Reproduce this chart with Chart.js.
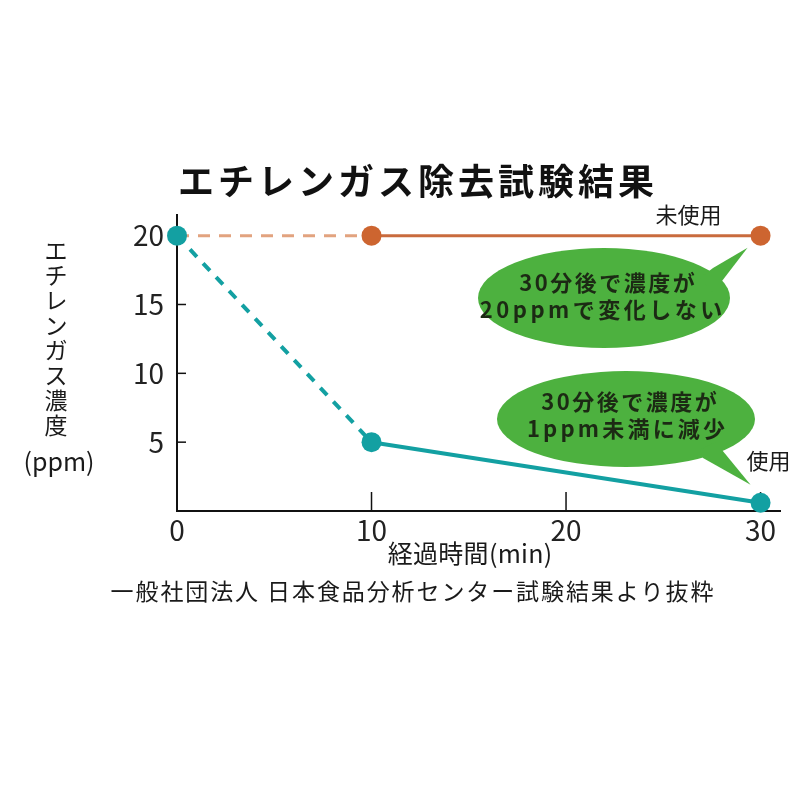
<!DOCTYPE html>
<html lang="ja">
<head>
<meta charset="utf-8">
<script src="https://cdn.jsdelivr.net/npm/chart.js@4/dist/chart.umd.min.js"></script>
<style>
html,body{margin:0;padding:0;background:#fff;}
canvas{display:block;}
</style>
</head>
<body>
<canvas id="c" width="800" height="800"></canvas>
<script>
// ---- data ----
const timesMin = [0, 10, 30];
const unusedPpm = [20, 20, 20];
const usedPpm = [20, 5, 0.6];
const xTickValues = [0, 10, 20, 30];
const yTickValues = [5, 10, 15, 20];
const titleText = 'エチレンガス除去試験結果';
const yTitleChars = ['エ','チ','レ','ン','ガ','ス','濃','度'];
const yTitleUnit = '(ppm)';
const xTitleText = '経過時間(min)';
const sourceText = '一般社団法人 日本食品分析センター試験結果より抜粋';
const seriesNames = ['使用', '未使用'];
const bubble1Lines = ['30分後で濃度が', '20ppmで変化しない'];
const bubble2Lines = ['30分後で濃度が', '1ppm未満に減少'];

const FONT = '"Noto Sans CJK JP", "Noto Sans", sans-serif';
const TEAL = '#13a0a2';
const ORANGE = '#cd6530';
const ORANGE_LINE = '#c96b3e';
const ORANGE_DASH = '#e2a37f';
const GREEN = '#4db13f';

const usedData = timesMin.map((t, i) => ({x: t, y: usedPpm[i]}));
const unusedData = timesMin.map((t, i) => ({x: t, y: unusedPpm[i]}));

function ellipseBubble(ctx, cx, cy, rx, ry, tailPts) {
  ctx.save();
  ctx.fillStyle = GREEN;
  ctx.beginPath();
  ctx.ellipse(cx, cy, rx, ry, 0, 0, Math.PI * 2);
  ctx.fill();
  ctx.beginPath();
  ctx.moveTo(tailPts[0][0], tailPts[0][1]);
  for (let i = 1; i < tailPts.length; i++) ctx.lineTo(tailPts[i][0], tailPts[i][1]);
  ctx.closePath();
  ctx.fill();
  ctx.restore();
}

function spacedText(ctx, text, x, y, spacing) {
  ctx.letterSpacing = spacing + 'px';
  ctx.fillText(text, x + spacing / 2, y);
  ctx.letterSpacing = '0px';
}

const decor = {
  id: 'decor',
  beforeDraw(chart) {
    const ctx = chart.ctx;
    ctx.save();
    ctx.fillStyle = '#fff';
    ctx.fillRect(0, 0, chart.width, chart.height);
    ctx.restore();
  },
  beforeDatasetsDraw(chart) {
    const ctx = chart.ctx;
    const xs = chart.scales.x, ys = chart.scales.y;
    ctx.save();
    ctx.strokeStyle = '#111';
    ctx.lineWidth = 1.5;
    yTickValues.forEach(v => {
      if (v === 20) return;
      const py = ys.getPixelForValue(v);
      ctx.beginPath();
      ctx.moveTo(xs.left, py);
      ctx.lineTo(xs.left + 9, py);
      ctx.stroke();
    });
    [10, 20, 30].forEach(v => {
      const px = xs.getPixelForValue(v);
      ctx.beginPath();
      ctx.moveTo(px, ys.bottom);
      ctx.lineTo(px, ys.bottom - 19);
      ctx.stroke();
    });
    ctx.restore();
  },
  afterDatasetsDraw(chart) {
    const ctx = chart.ctx;
    const xs = chart.scales.x, ys = chart.scales.y;
    ctx.save();
    ctx.textAlign = 'center';
    ctx.textBaseline = 'middle';

    // Title
    ctx.fillStyle = '#111';
    ctx.font = 'bold 36px ' + FONT;
    spacedText(ctx, titleText, 416, 181, 4);

    // Y title (vertical)
    ctx.font = '23px ' + FONT;
    ctx.fillStyle = '#1a1a1a';
    yTitleChars.forEach((ch, i) => ctx.fillText(ch, 56, 250 + i * 25));
    ctx.font = '25px ' + FONT;
    ctx.fillText(yTitleUnit, 59, 461);

    // X title
    ctx.font = '25px ' + FONT;
    spacedText(ctx, xTitleText, 470, 553, 0.3);

    // Source
    ctx.font = '23px ' + FONT;
    spacedText(ctx, sourceText, 412, 591, 1.9);

    // Series labels
    const p30u = [xs.getPixelForValue(timesMin[2]), ys.getPixelForValue(unusedPpm[2])];
    const p30s = [xs.getPixelForValue(timesMin[2]), ys.getPixelForValue(usedPpm[2])];
    ctx.font = '22px ' + FONT;
    ctx.fillText(seriesNames[1], p30u[0] - 72, p30u[1] - 21);
    ctx.fillText(seriesNames[0], p30s[0] + 8, p30s[1] - 42);

    // Bubbles
    ellipseBubble(ctx, 604, 298, 126, 50,
      [[700, 278], [713, 268], [p30u[0] - 13, p30u[1] + 12], [722, 281], [712, 292]]);
    ellipseBubble(ctx, 626, 419, 129, 48,
      [[700, 450], [703, 458], [p30s[0] - 10, p30s[1] - 18], [722, 450], [715, 442]]);

    ctx.fillStyle = '#1c2a14';
    ctx.font = 'bold 22px ' + FONT;
    spacedText(ctx, bubble1Lines[0], 607, 283, 2.5);
    spacedText(ctx, bubble1Lines[1], 601, 310, 3.5);
    spacedText(ctx, bubble2Lines[0], 629, 402, 2.5);
    spacedText(ctx, bubble2Lines[1], 626, 429, 3.2);
    ctx.restore();
  }
};

const dashFirst = (dash) => (c) => c.p0.parsed.x < 10 ? dash : undefined;

new Chart(document.getElementById('c'), {
  type: 'line',
  data: {
    datasets: [
      {
        label: seriesNames[0],
        data: usedData,
        borderColor: TEAL,
        backgroundColor: TEAL,
        borderWidth: 4,
        pointRadius: 10,
        pointBorderWidth: 0,
        pointBackgroundColor: TEAL,
        segment: { borderDash: dashFirst([10, 9]) },
        tension: 0,
        clip: false
      },
      {
        label: seriesNames[1],
        data: unusedData,
        borderColor: ORANGE_LINE,
        backgroundColor: ORANGE,
        borderWidth: 3,
        pointRadius: [0, 10, 10],
        pointBorderWidth: 0,
        pointBackgroundColor: ORANGE,
        segment: {
          borderDash: dashFirst([12, 9]),
          borderColor: (c) => c.p0.parsed.x < 10 ? ORANGE_DASH : undefined
        },
        tension: 0,
        clip: false
      }
    ]
  },
  options: {
    responsive: false,
    animation: false,
    events: [],
    layout: { padding: { left: 0, right: 20, top: 215, bottom: 249 } },
    plugins: { legend: { display: false }, tooltip: { enabled: false }, title: { display: false } },
    scales: {
      x: {
        type: 'linear',
        min: 0, max: 31,
        afterFit(s) { s.height = 40; },
        afterBuildTicks(s) { s.ticks = xTickValues.map(v => ({value: v})); },
        grid: { display: false, drawTicks: false },
        border: { display: true, color: '#111', width: 2 },
        ticks: { color: '#222', font: { family: FONT, size: 28 }, padding: 3, maxRotation: 0 }
      },
      y: {
        min: 0, max: 21.5,
        afterFit(s) { s.width = 177; },
        afterBuildTicks(s) { s.ticks = yTickValues.map(v => ({value: v})); },
        grid: { display: false, drawTicks: false },
        border: { display: true, color: '#111', width: 2 },
        ticks: { color: '#222', font: { family: FONT, size: 28 }, padding: 13 }
      }
    }
  },
  plugins: [decor]
});
</script>
</body>
</html>
